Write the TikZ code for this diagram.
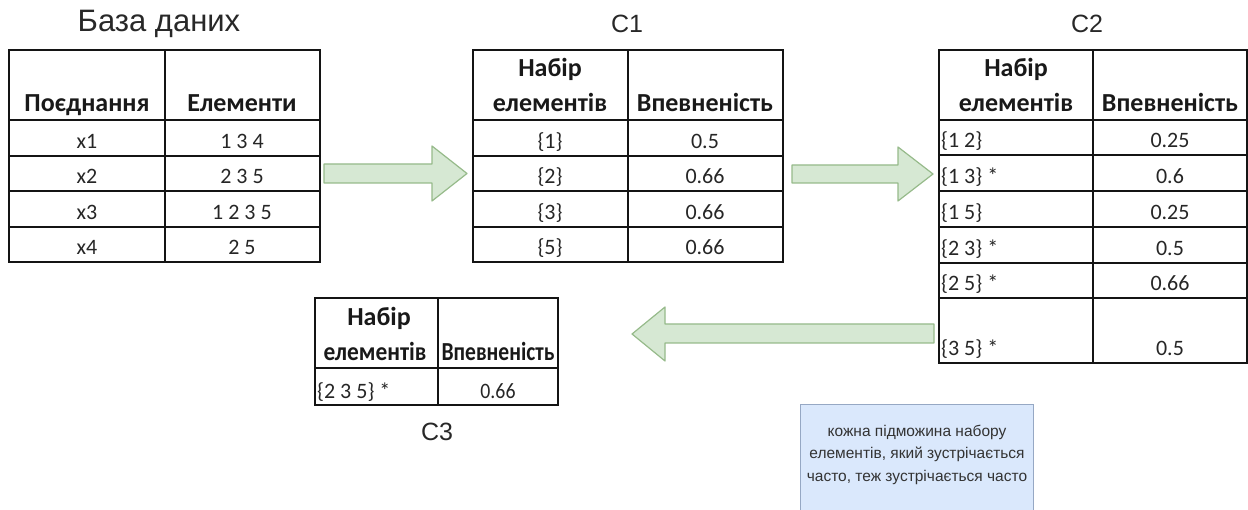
\documentclass[tikz,border=0pt]{standalone}
\usepackage{fontspec}
\usepackage{graphicx}
\setmainfont{Carlito}
\newfontfamily\titlefamily{Liberation Sans}
\definecolor{gridline}{RGB}{20,20,20}
\definecolor{arrowfill}{RGB}{214,232,211}
\definecolor{arrowedge}{RGB}{150,186,138}
\definecolor{notefill}{RGB}{218,232,252}
\definecolor{noteedge}{RGB}{150,168,196}
\definecolor{titlegray}{RGB}{40,40,40}
\newcommand\tabtext{\fontsize{22}{22}\selectfont}
\newcommand\tabhead{\fontsize{26}{26}\selectfont\bfseries}
\newcommand\squeeze[2]{\scalebox{#1}[1]{#2}}
\tikzset{
  grid/.style={draw=gridline, line width=1.4pt},
  cell/.style={anchor=base, inner sep=0pt, font=\tabtext, text=black!85},
  lcell/.style={cell, anchor=base west},
  hcell/.style={cell, font=\tabhead, text=black!90},
  caption/.style={anchor=base, inner sep=0pt, text=titlegray,
    font=\titlefamily\fontsize{25}{25}\selectfont},
  bigcaption/.style={caption, font=\titlefamily\fontsize{31}{31}\selectfont},
  blockarrow/.style={fill=arrowfill, draw=arrowedge, line width=1.2pt, line join=round},
  note/.style={fill=notefill, draw=noteedge, line width=1pt},
  noteline/.style={anchor=base, inner sep=0pt, text=black!80,
    font=\titlefamily\fontsize{15.5}{15.5}\selectfont}
}
\begin{document}
\begin{tikzpicture}[x=1pt,y=-1pt]
\useasboundingbox (0,0) rectangle (1248,510);

% ---- database table ----
\node[bigcaption] (tdb) at (159,32) {База даних};
\draw[grid] (9,50) rectangle (320,262);
\draw[grid] (165,50) -- (165,262);
\foreach \yy in {120,156,191,227} \draw[grid] (9,\yy) -- (320,\yy);
\node[hcell] (dbh1) at (87,112) {Поєднання};
\node[hcell] (dbh2) at (242,112) {Елементи};
\foreach \a/\b/\yy [count=\i] in {x1/1 3 4/149, x2/2 3 5/184, x3/1 2 3 5/220, x4/2 5/255}{
  \node[cell] (db\i a) at (87,\yy) {\a};
  \node[cell] (db\i b) at (242,\yy) {\b};
}

% ---- C1 ----
\node[caption] (tc1) at (627,33) {C1};
\draw[grid] (473,50) rectangle (783,262);
\draw[grid] (628,50) -- (628,262);
\foreach \yy in {120,156,191,227} \draw[grid] (473,\yy) -- (783,\yy);
\node[hcell] (c1h1) at (550,77) {Набір};
\node[hcell] (c1h2) at (550,112) {елементів};
\node[hcell] (c1h3) at (705,112) {Впевненість};
\foreach \a/\b/\yy [count=\i] in {\{1\}/0.5/149, \{2\}/0.66/184, \{3\}/0.66/220, \{5\}/0.66/255}{
  \node[cell] (c1\i a) at (550,\yy) {\a};
  \node[cell] (c1\i b) at (705,\yy) {\b};
}

% ---- C2 ----
\node[caption] (tc2) at (1087,33) {C2};
\draw[grid] (939,50) rectangle (1247,363);
\draw[grid] (1093,50) -- (1093,363);
\foreach \yy in {120,155,191,227,263,298} \draw[grid] (939,\yy) -- (1247,\yy);
\node[hcell] (c2h1) at (1016,77) {Набір};
\node[hcell] (c2h2) at (1016,112) {елементів};
\node[hcell] (c2h3) at (1170,112) {Впевненість};
\foreach \a/\b/\yy [count=\i] in {\{1 2\}/0.25/148, \{1 3\} */0.6/184, \{1 5\}/0.25/220,
    \{2 3\} */0.5/256, \{2 5\} */0.66/291, \{3 5\} */0.5/356}{
  \node[lcell] (c2\i a) at (941,\yy) {\a};
  \node[cell] (c2\i b) at (1170,\yy) {\b};
}

% ---- C3 (narrower columns, headers set a little condensed) ----
\node[caption] (tc3) at (437,441) {C3};
\draw[grid] (315,298) rectangle (558,405);
\draw[grid] (438,298) -- (438,405);
\draw[grid] (315,368) -- (558,368);
\node[hcell] (c3h1) at (379,326) {Набір};
\node[hcell] (c3h2) at (375,361) {\squeeze{0.9}{елементів}};
\node[hcell] (c3h3) at (498,361) {\squeeze{0.83}{Впевненість}};
\node[lcell] (c31a) at (317,399) {\{2 3 5\} *};
\node[cell] (c31b) at (498,399) {\squeeze{0.9}{0.66}};

% ---- block arrows between the tables ----
\draw[blockarrow] (324,164) -- (432,164) -- (432,146) -- (467,173.5)
  -- (432,201) -- (432,183) -- (324,183) -- cycle;
\draw[blockarrow] (792,165) -- (898,165) -- (898,147) -- (933,174)
  -- (898,201) -- (898,183) -- (792,183) -- cycle;
\draw[blockarrow] (934,324) -- (665,324) -- (665,307) -- (632,334)
  -- (665,361) -- (665,343) -- (934,343) -- cycle;

% ---- note ----
\draw[note] (800,405) rectangle (1033,530);
\node[noteline] (nt1) at (917,436) {кожна підможина набору};
\node[noteline] (nt2) at (917,459) {елементів, який зустрічається};
\node[noteline] (nt3) at (917,482) {часто, теж зустрічається часто};
\end{tikzpicture}
\end{document}
